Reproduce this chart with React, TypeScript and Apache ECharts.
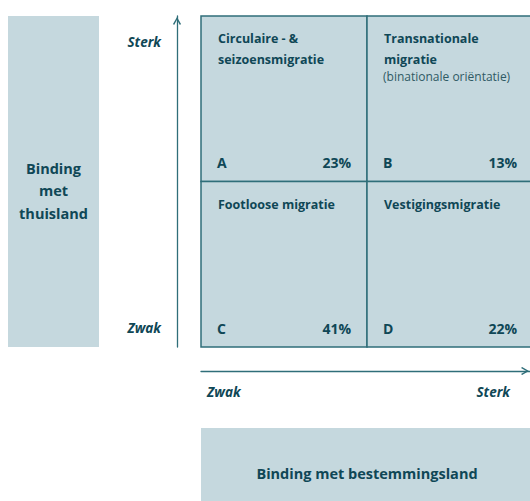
import React, { useEffect, useRef } from "react";
import * as echarts from "echarts";

// ---- data ----
const letters = ["A", "B", "C", "D"];
const colIndex = [0, 1, 0, 1]; // binding met bestemmingsland: 0 = zwak, 1 = sterk
const rowIndex = [1, 1, 0, 0]; // binding met thuisland: 0 = zwak, 1 = sterk
const titles = [
  "Circulaire - &\nseizoensmigratie",
  "Transnationale\nmigratie",
  "Footloose migratie",
  "Vestigingsmigratie",
];
const subtitles = ["", "(binationale oriëntatie)", "", ""];
const shares = [23, 13, 41, 22];
const levelLabels = ["Zwak", "Sterk"];
const xName = "Binding met bestemmingsland";
const yNameLines = ["Binding", "met", "thuisland"];

const LINE = "#2f6e79";
const FILL = "#c5d8de";
const TEXT = "#0f4756";
const FONT = '"Open Sans", "Noto Sans", sans-serif';
const ARROW = "path://M5,0 L10,8.6 L8.6,10 L5,3.4 L1.4,10 L0,8.6 Z";

export default function App() {
  const ref = useRef<HTMLDivElement>(null);
  useEffect(() => {
    if (!ref.current) return;
    const chart = echarts.init(ref.current, null, { renderer: "svg" });
    const data = letters.map((l, i) => [colIndex[i], rowIndex[i], i]);
    const axisCommon = {
      type: "value" as const,
      min: 0,
      max: 2,
      interval: 2,
      offset: 24,
      splitLine: { show: false },
      axisTick: { show: false },
    };
    chart.setOption({
      animation: false,
      grid: {
        left: 201,
        top: 16,
        right: -3,
        bottom: 154,
        containLabel: false,
        outerBoundsMode: "none",
      },
      xAxis: {
        ...axisCommon,
        position: "bottom",
        axisLine: {
          show: true,
          onZero: false,
          symbol: ["none", ARROW],
          symbolSize: [9, 8],
          symbolOffset: [0, -8],
          lineStyle: { color: LINE, width: 1.3 },
        },
        axisLabel: {
          margin: 14,
          alignMinLabel: "left",
          alignMaxLabel: "right",
          formatter: (v: number) => (v === 0 ? "{w|" + levelLabels[0] + "}" : "{s|" + levelLabels[1] + "}"),
          rich: {
            w: { fontFamily: FONT, fontSize: 13.5, fontWeight: "bold", fontStyle: "italic", color: TEXT, padding: [0, 0, 0, 6] },
            s: { fontFamily: FONT, fontSize: 13.5, fontWeight: "bold", fontStyle: "italic", color: TEXT, padding: [0, 23, 0, 0] },
          },
        },
        name: "{b|" + xName + "}",
        nameLocation: "middle",
        nameGap: 57,
        nameTextStyle: {
          backgroundColor: FILL,
          padding: [36, 0, 40, 0],
          rich: {
            b: { width: 332, align: "center", lineHeight: 18, fontFamily: FONT, fontSize: 14.5, fontWeight: "bold", color: TEXT },
          },
        },
      },
      yAxis: {
        ...axisCommon,
        position: "left",
        axisLine: {
          show: true,
          onZero: false,
          symbol: ["none", ARROW],
          symbolSize: [9, 8],
          symbolOffset: [0, -5],
          lineStyle: { color: LINE, width: 1.3 },
        },
        axisLabel: {
          margin: 16,
          verticalAlignMinLabel: "bottom",
          verticalAlignMaxLabel: "top",
          formatter: (v: number) => (v === 0 ? "{w|" + levelLabels[0] + "}" : "{s|" + levelLabels[1] + "}"),
          rich: {
            w: { fontFamily: FONT, fontSize: 13.5, fontWeight: "bold", fontStyle: "italic", color: TEXT, padding: [0, 0, 12, 0] },
            s: { fontFamily: FONT, fontSize: 13.5, fontWeight: "bold", fontStyle: "italic", color: TEXT, padding: [19, 0, 0, 0] },
          },
        },
        name: yNameLines.map((t) => "{t|" + t + "}").join("\n"),
        nameLocation: "middle",
        nameRotate: 0,
        nameGap: 78,
        nameTextStyle: {
          backgroundColor: FILL,
          padding: [140.75, 0, 122.75, 0],
          rich: {
            t: { width: 91, align: "center", lineHeight: 22.5, fontFamily: FONT, fontSize: 14.5, fontWeight: "bold", color: TEXT },
          },
        },
      },
      series: [
        {
          type: "custom",
          data,
          renderItem: (params: any, api: any) => {
            const cx = api.value(0);
            const cy = api.value(1);
            const i = api.value(2);
            const tl = api.coord([cx, cy + 1]);
            const br = api.coord([cx + 1, cy]);
            const left = tl[0];
            const top = tl[1];
            const right = br[0];
            const bottom = br[1];
            const children: any[] = [
              {
                type: "rect",
                shape: { x: left, y: top, width: right - left, height: bottom - top },
                style: { fill: FILL, stroke: LINE, lineWidth: 1.5 },
              },
              {
                type: "text",
                style: {
                  x: left + 17,
                  y: top + 12,
                  text: titles[i],
                  fill: TEXT,
                  font: "bold 12.5px " + FONT,
                  lineHeight: 21,
                  align: "left",
                  verticalAlign: "top",
                },
              },
              {
                type: "text",
                style: {
                  x: left + 16,
                  y: bottom - 19,
                  text: letters[i],
                  fill: TEXT,
                  font: "bold 14px " + FONT,
                  align: "left",
                  verticalAlign: "middle",
                },
              },
              {
                type: "text",
                style: {
                  x: right - 16,
                  y: bottom - 19,
                  text: shares[i] + "%",
                  fill: TEXT,
                  font: "bold 14px " + FONT,
                  align: "right",
                  verticalAlign: "middle",
                },
              },
            ];
            if (subtitles[i]) {
              children.push({
                type: "text",
                style: {
                  x: left + 16,
                  y: top + 60,
                  text: subtitles[i],
                  fill: "#2f5a64",
                  font: "12px " + FONT,
                  align: "left",
                  verticalAlign: "middle",
                },
              });
            }
            return { type: "group", children };
          },
        },
      ],
    });
    return () => chart.dispose();
  }, []);
  return (
    <div
      ref={ref}
      style={{ position: "fixed", left: 0, top: 0, width: 530, height: 501, background: "#fff" }}
    />
  );
}
